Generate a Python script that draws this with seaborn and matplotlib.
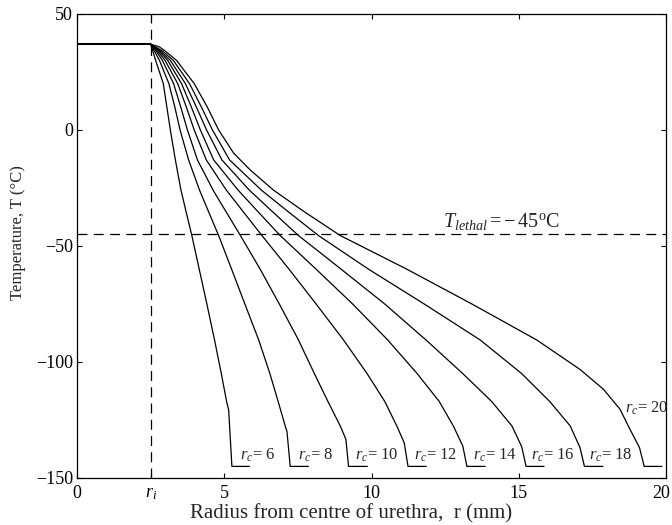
import matplotlib
matplotlib.use("Agg")
import matplotlib.pyplot as plt
import matplotlib.transforms as mtransforms
import pandas as pd
import seaborn as sns

# Geometry / reference temperatures (mm, degC)
R_I = 2.5
T_LETHAL = -45

probe_radii = [6, 8, 10, 12, 14, 16, 18, 20]

# Radial temperature profiles, one per probe radius r_c
r_rc6 = [0, 2.5, 2.575, 2.67, 2.93, 3.05, 3.17, 3.34, 3.53, 3.70, 3.90, 4.15, 4.41, 4.67, 4.90, 5.08,
         5.15, 5.26, 5.86]
T_rc6 = [37, 37, 34, 30, 20, 10, 0, -12.9, -25.9, -35, -45.5, -60, -75, -90.5, -105, -117,
         -120.7, -145, -145]

r_rc8 = [0, 2.5, 2.63, 2.80, 3.12, 3.32, 3.50, 3.79, 4.16, 4.46, 4.81, 5.25, 5.70, 6.17, 6.55, 6.83,
         7.07, 7.13, 7.24, 7.86]
T_rc8 = [37, 37, 34, 30, 20, 10, 0, -12.9, -25.9, -35, -45.5, -60, -75, -90.5, -105, -117,
         -127.6, -130, -145, -145]

r_rc10 = [0, 2.5, 2.69, 2.90, 3.28, 3.52, 3.75, 4.09, 4.62, 5.05, 5.55, 6.22, 6.87, 7.52, 8.06, 8.52,
          8.94, 9.13, 9.22, 9.86]
T_rc10 = [37, 37, 34, 30, 20, 10, 0, -12.9, -25.9, -35, -45.5, -60, -75, -90.5, -105, -117,
          -127.6, -133.3, -145, -145]

r_rc12 = [0, 2.5, 2.74, 2.99, 3.42, 3.71, 3.98, 4.39, 5.07, 5.63, 6.28, 7.20, 8.12, 9.05, 9.85, 10.45,
          10.86, 11.11, 11.24, 11.86]
T_rc12 = [37, 37, 34, 30, 20, 10, 0, -12.9, -25.9, -35, -45.5, -60, -75, -90.5, -105, -117,
          -127.6, -134.8, -145, -145]

r_rc14 = [0, 2.5, 2.79, 3.08, 3.55, 3.88, 4.19, 4.64, 5.47, 6.13, 6.90, 8.12, 9.36, 10.55, 11.55, 12.30,
          12.78, 13.10, 13.24, 13.86]
T_rc14 = [37, 37, 34, 30, 20, 10, 0, -12.9, -25.9, -35, -45.5, -60, -75, -90.5, -105, -117,
          -127.6, -136.2, -145, -145]

r_rc16 = [0, 2.5, 2.84, 3.17, 3.68, 4.05, 4.40, 4.92, 5.85, 6.62, 7.52, 8.97, 10.45, 11.85, 13.10, 14.08,
          14.77, 15.10, 15.25, 15.86]
T_rc16 = [37, 37, 34, 30, 20, 10, 0, -12.9, -25.9, -35, -45.5, -60, -75, -90.5, -105, -117,
          -127.6, -136.5, -145, -145]

r_rc18 = [0, 2.5, 2.91, 3.27, 3.82, 4.22, 4.60, 5.18, 6.26, 7.15, 8.20, 9.90, 11.79, 13.69, 15.10, 16.05,
          16.75, 17.08, 17.23, 17.86]
T_rc18 = [37, 37, 34, 30, 20, 10, 0, -12.9, -25.9, -35, -45.5, -60, -75, -90.5, -105, -117,
          -127.6, -136.9, -145, -145]

r_rc20 = [0, 2.5, 2.80, 3.00, 3.38, 3.98, 4.42, 4.81, 5.32, 5.88, 6.67, 7.69, 8.94, 11.20, 13.41, 15.61,
          17.08, 17.88, 18.44, 18.72, 19.10, 19.26, 19.86]
T_rc20 = [37, 37, 35.8, 34, 30, 20, 10, 0, -10, -17.2, -25.9, -35, -45.5, -60, -75, -90.5,
          -103.2, -111.8, -120.4, -127.6, -136.9, -145, -145]

profiles_r = [r_rc6, r_rc8, r_rc10, r_rc12, r_rc14, r_rc16, r_rc18, r_rc20]
profiles_T = [T_rc6, T_rc8, T_rc10, T_rc12, T_rc14, T_rc16, T_rc18, T_rc20]

# Label anchor points (r, T) for the r_c annotations
label_r = [5.52, 7.52, 9.45, 11.43, 13.44, 15.41, 17.39, 18.61]
label_T = [-142.2, -142.2, -142.2, -142.2, -142.2, -142.2, -142.2, -121.8]

x_ticks = [0, R_I, 5, 10, 15, 20]
x_tick_labels = ["0", r"$r_i$", "5", "10", "15", "20"]
y_ticks = [-150, -100, -50, 0, 50]

frames = []
for rc, rr, tt in zip(probe_radii, profiles_r, profiles_T):
    frames.append(pd.DataFrame({"r": rr, "T": tt, "rc": rc}))
df = pd.concat(frames, ignore_index=True)

sns.set_style("ticks")
plt.rcParams["font.family"] = ["Liberation Serif", "DejaVu Serif"]
plt.rcParams["mathtext.fontset"] = "custom"
plt.rcParams["mathtext.rm"] = "Liberation Serif"
plt.rcParams["mathtext.it"] = "Liberation Serif:italic"
plt.rcParams["axes.unicode_minus"] = True

fig = plt.figure(figsize=(6.72, 5.25), dpi=100)
ax = fig.add_axes([77 / 672, 1 - 478 / 525, (666 - 77) / 672, (478 - 14) / 525])

sns.lineplot(data=df, x="r", y="T", hue="rc", units="rc", estimator=None, sort=False,
             palette=["black"] * len(probe_radii), linewidth=0.9, legend=False, ax=ax)

ax.axvline(R_I, color="black", linewidth=0.9, dashes=(8, 5))
ax.axhline(T_LETHAL, color="black", linewidth=0.9, dashes=(8, 5))

for rc, lr, lt in zip(probe_radii, label_r, label_T):
    ax.text(lr, lt, r"$r_c$= %d" % rc, fontsize=12, ha="left", va="baseline")

ax.text(12.43, -41.9, r"$T_{lethal}$$=-\,45^{\mathrm{o}}\mathrm{C}$", fontsize=14.5,
        ha="left", va="baseline")

ax.set_xlim(0, 20)
ax.set_ylim(-150, 50)
ax.set_xticks(x_ticks)
ax.set_xticklabels(x_tick_labels)
ax.set_yticks(y_ticks)

ax.tick_params(direction="in", length=3.8, width=0.8, top=True, right=True,
               labelsize=13, colors="black")
ax.tick_params(axis="x", pad=5)
ax.tick_params(axis="y", pad=3)
for s in ax.spines.values():
    s.set_linewidth(0.9)
    s.set_color("black")

# keep the last x tick label inside the canvas
last_label = ax.get_xticklabels()[-1]
last_label.set_transform(last_label.get_transform()
                         + mtransforms.ScaledTranslation(-3.5 / 72, 0, fig.dpi_scale_trans))

ax.set_xlabel("Radius from centre of urethra,  r (mm)", fontsize=15)
ax.set_ylabel("Temperature, T (°C)", fontsize=12)
ax.xaxis.set_label_coords(0.466, -0.056)
ax.yaxis.set_label_coords(-0.087, 0.53)

fig.savefig("out.png", dpi=100, facecolor="white")
